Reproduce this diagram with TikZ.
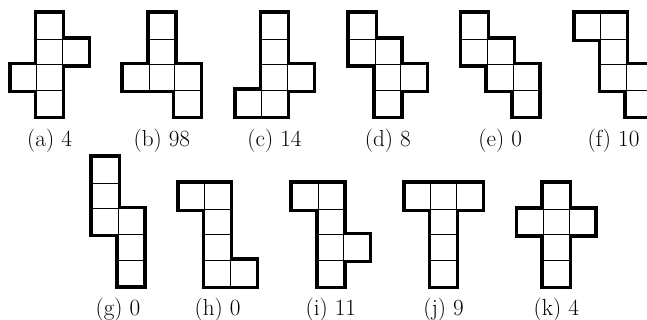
\documentclass[tikz,border=0pt]{standalone}
\usepackage{fontspec}
\usepackage{tikz}
\usetikzlibrary{positioning}

\newcommand{\cellsz}{25.7}

\begin{document}
\begin{tikzpicture}[x=0.025cm, y=-0.025cm,
    cellout/.style={draw, line width=4.2pt},
    cellin/.style={draw, fill=white, line width=0.6pt},
    sublabel/.style={font=\fontsize{16.5}{19}\selectfont, inner sep=0pt}]
  \useasboundingbox (0,0) rectangle (647,320);
  % name / left / top / width in cells / label y / count / cells (column/row)
  \foreach \n/\x/\y/\w/\ly/\t/\cs in {
      a/11/13.3/3/141/4/{1/0,1/1,2/1,0/2,1/2,1/3},
      b/123.3/13.3/3/141/98/{1/0,1/1,0/2,1/2,2/2,2/3},
      c/236/13.3/3/141/14/{1/0,1/1,1/2,2/2,0/3,1/3},
      d/349.3/13.3/3/141/8/{0/0,0/1,1/1,1/2,2/2,1/3},
      e/461.7/13.3/3/141/0/{0/0,0/1,1/1,1/2,2/2,2/3},
      f/575/13.3/3/141/10/{0/0,1/0,1/1,1/2,2/2,2/3},
      g/92.3/157.3/2/310/0/{0/0,0/1,0/2,1/2,1/3,1/4},
      h/179/183.3/3/310/0/{0/0,1/0,1/1,1/2,1/3,2/3},
      i/292.3/183.3/3/310/11/{0/0,1/0,1/1,1/2,2/2,1/3},
      j/405/183.3/3/310/9/{0/0,1/0,2/0,1/1,1/2,1/3},
      k/517.7/183.3/3/310/4/{1/0,0/1,1/1,2/1,1/2,1/3}} {
    \foreach \c/\r in \cs
      \path[cellout] (\x+\c*\cellsz, \y+\r*\cellsz) rectangle ++(\cellsz,\cellsz);
    \foreach \c/\r in \cs
      \path[cellin] (\x+\c*\cellsz, \y+\r*\cellsz) rectangle ++(\cellsz,\cellsz);
    \node[sublabel] (lbl-\n) at (\x+\w*\cellsz/2, \ly) {(\n) \t};
  }
\end{tikzpicture}
\end{document}
